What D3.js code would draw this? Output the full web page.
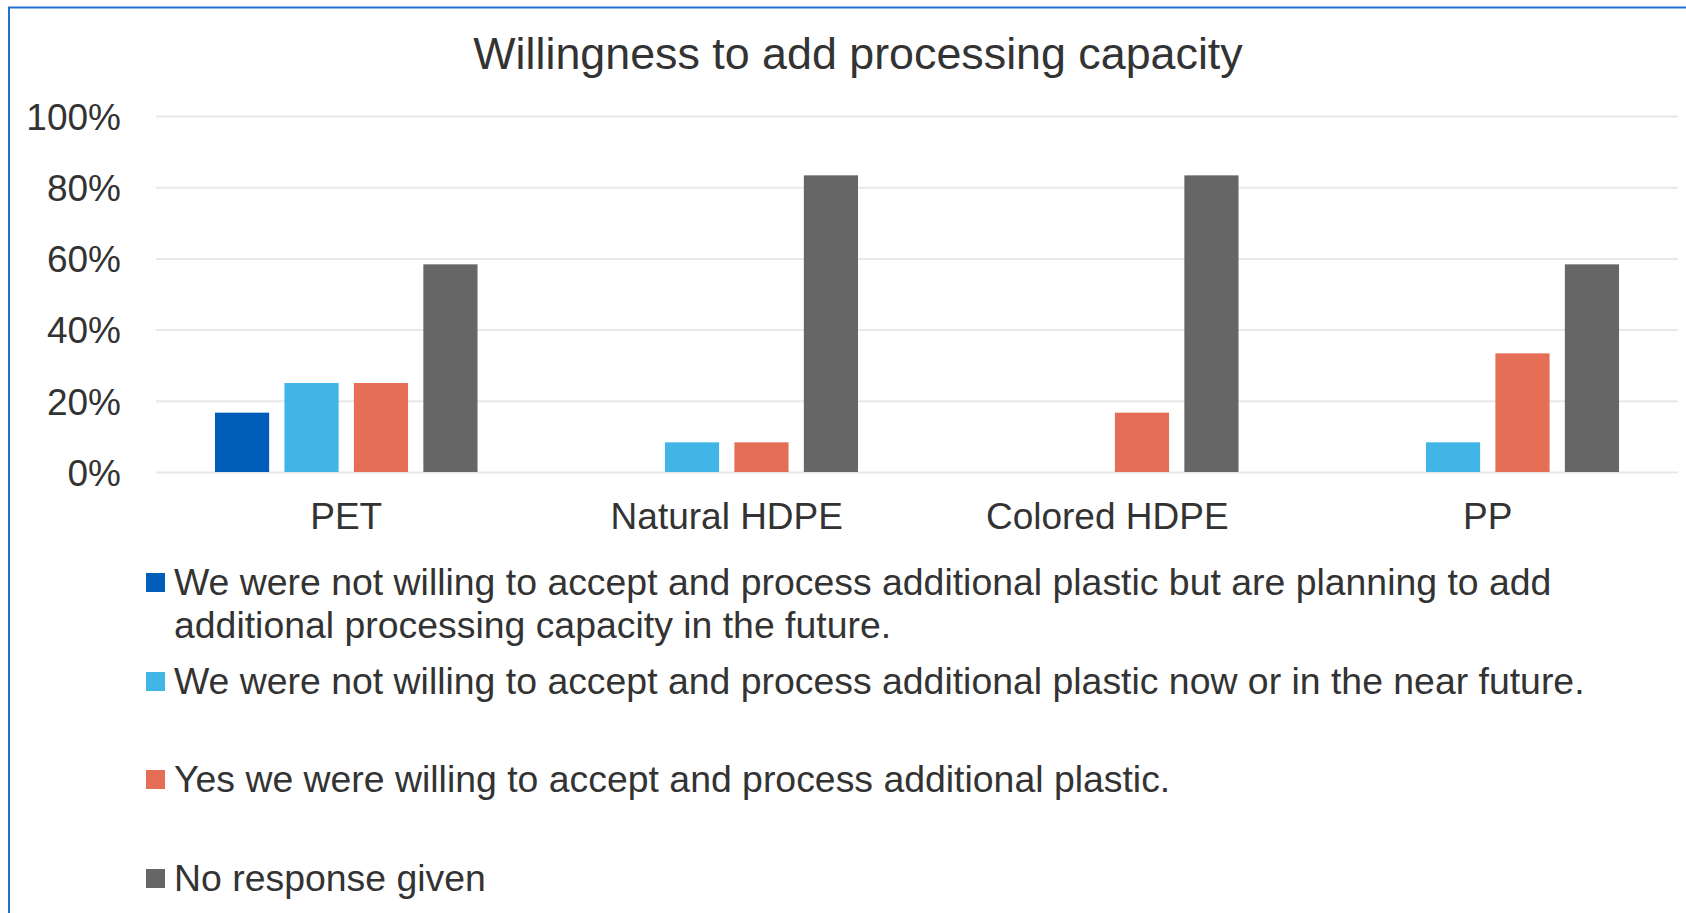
<!DOCTYPE html>
<html>
<head>
<meta charset="utf-8">
<script src="https://cdn.jsdelivr.net/npm/d3@7"></script>
<style>
  html, body { margin: 0; padding: 0; background: #fff; }
  svg { display: block; font-family: "Liberation Sans", Arial, sans-serif; }
</style>
</head>
<body>
<svg id="chart" width="1686" height="913"></svg>
<script>
const title = "Willingness to add processing capacity";
const categories = ["PET", "Natural HDPE", "Colored HDPE", "PP"];
const seriesNames = [
  "We were not willing to accept and process additional plastic but are planning to add additional processing capacity in the future.",
  "We were not willing to accept and process additional plastic now or in the near future.",
  "Yes we were willing to accept and process additional plastic.",
  "No response given"
];
const seriesColors = ["#005EB8", "#41B6E6", "#E56E56", "#666666"];
const planningValues   = [0.1667, 0, 0, 0];
const notWillingValues = [0.25, 0.0833, 0, 0.0833];
const willingValues    = [0.25, 0.0833, 0.1667, 0.3333];
const noResponseValues = [0.5833, 0.8333, 0.8333, 0.5833];
const yTicks = [0, 0.2, 0.4, 0.6, 0.8, 1.0];

const seriesValues = [planningValues, notWillingValues, willingValues, noResponseValues];
const textColor = "#333333";

const svg = d3.select("#chart");

// outer frame
svg.append("rect")
  .attr("x", 9).attr("y", 7.5)
  .attr("width", 1760).attr("height", 1000)
  .attr("fill", "none").attr("stroke", "#2470D0").attr("stroke-width", 2);

const x0 = d3.scaleBand().domain(categories).range([156, 1678])
  .paddingInner(0.31).paddingOuter(0.155);
const x1 = d3.scaleBand().domain(d3.range(seriesNames.length)).range([0, x0.bandwidth()])
  .paddingInner(0.22).paddingOuter(0);
const y = d3.scaleLinear().domain([0, 1]).range([472, 116]);

// title
svg.append("text")
  .attr("x", 858).attr("y", 69)
  .attr("text-anchor", "middle")
  .attr("font-size", 44.8).attr("fill", textColor)
  .text(title);

// gridlines via axis
const yAxis = d3.axisLeft(y).tickValues(yTicks).tickFormat(d3.format(".0%"))
  .tickSize(-(1678 - 156)).tickPadding(35);
const gy = svg.append("g").attr("transform", "translate(156,0)").call(yAxis);
gy.select(".domain").remove();
gy.selectAll(".tick line").attr("stroke", "#E8E8E8").attr("stroke-width", 2);
gy.selectAll(".tick text")
  .attr("font-size", 37).attr("fill", textColor)
  .attr("font-family", "Liberation Sans, Arial, sans-serif")
  .attr("dy", "0.36em");

// x axis labels
const xAxis = d3.axisBottom(x0).tickSize(0).tickPadding(0);
const gx = svg.append("g").attr("transform", "translate(0,472)").call(xAxis);
gx.select(".domain").remove();
gx.selectAll(".tick text")
  .attr("font-size", 37).attr("fill", textColor)
  .attr("font-family", "Liberation Sans, Arial, sans-serif")
  .attr("dy", null).attr("y", 57);

// bars
const groups = svg.append("g").selectAll("g")
  .data(categories).join("g")
  .attr("transform", d => `translate(${x0(d)},0)`);
groups.selectAll("rect")
  .data((c, ci) => seriesValues.map((vals, si) => ({ si, v: vals[ci] })))
  .join("rect")
  .filter(d => d.v > 0)
  .attr("x", d => x1(d.si))
  .attr("width", x1.bandwidth())
  .attr("y", d => y(d.v))
  .attr("height", d => y(0) - y(d.v))
  .attr("fill", d => seriesColors[d.si]);

// legend
const legendTops = [573, 672, 770, 869];
const textX = 174;
const maxW = 1480;
const leg = svg.append("g");
seriesNames.forEach((name, i) => {
  const g = leg.append("g");
  g.append("rect")
    .attr("x", 146).attr("y", legendTops[i])
    .attr("width", 19).attr("height", 19)
    .attr("fill", seriesColors[i]);
  const t = g.append("text")
    .attr("x", textX).attr("y", legendTops[i] + 22)
    .attr("font-size", 37.4).attr("fill", textColor);
  const words = name.split(" ");
  let line = [];
  let tspan = t.append("tspan").attr("x", textX).attr("dy", 0);
  words.forEach(w => {
    line.push(w);
    tspan.text(line.join(" "));
    if (tspan.node().getComputedTextLength() > maxW && line.length > 1) {
      line.pop();
      tspan.text(line.join(" "));
      line = [w];
      tspan = t.append("tspan").attr("x", textX).attr("dy", 43).text(w);
    }
  });
});
</script>
</body>
</html>
